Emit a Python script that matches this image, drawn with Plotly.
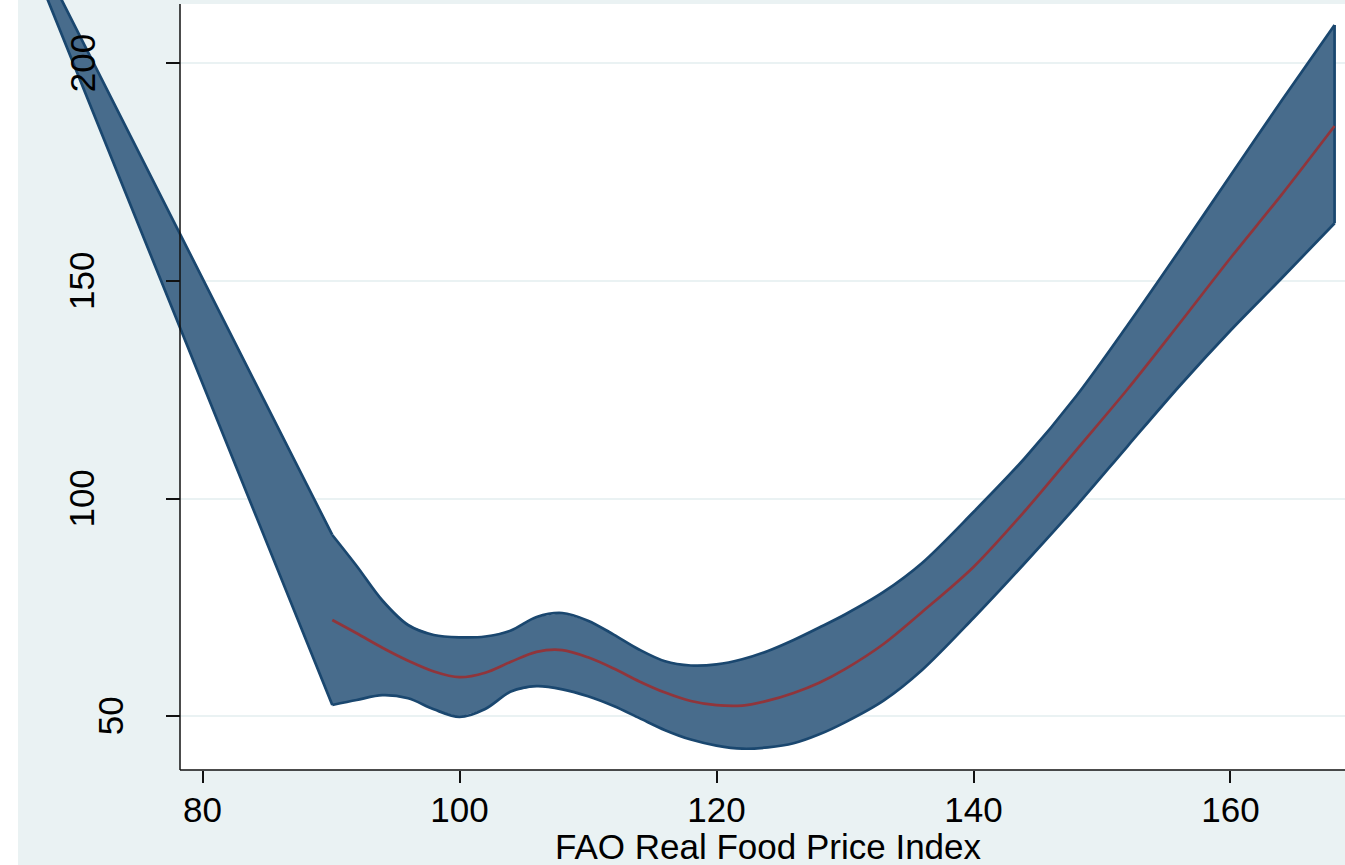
import plotly.graph_objects as go

# ---------------- data ----------------
x_grid = [90.1, 92, 94, 96, 98, 100, 102, 104, 106, 108, 110, 112, 114, 116, 118,
          120, 122, 124, 126, 128, 130, 133, 136, 140, 144, 148, 152, 156, 160, 164, 168.1]

ci_lower = [52.58, 53.73, 54.83, 54.12, 51.60, 49.83, 51.67, 55.66, 56.90, 56.19,
            54.60, 52.35, 49.57, 46.80, 44.64, 43.26, 42.55, 42.84, 43.79, 45.85,
            48.60, 53.59, 60.63, 72.57, 85.21, 98.30, 112.08, 125.75, 138.62, 150.68, 163.24]

ci_upper = [91.64, 84.52, 76.59, 70.96, 68.67, 68.14, 68.32, 69.70, 72.80, 73.72,
            71.95, 68.76, 65.29, 62.62, 61.66, 61.91, 63.08, 64.99, 67.52, 70.39,
            73.38, 78.55, 85.21, 96.92, 109.33, 123.57, 139.88, 156.90, 174.20, 191.50, 208.80]

fit = [72.11, 69.06, 65.72, 62.74, 60.28, 58.97, 60.00, 62.51, 64.80, 65.20,
       63.54, 60.97, 58.00, 55.43, 53.50, 52.54, 52.45, 53.59, 55.36, 57.71,
       60.83, 66.60, 73.95, 84.29, 97.15, 111.16, 125.18, 140.11, 155.27, 169.90, 185.60]

# left apex where the two straight CI edges meet (outside the plot region)
band_apex_x = 63.7
band_apex_y = 245.7

x_ticks = [80, 100, 120, 140, 160]
y_ticks = [50, 100, 150, 200]
x_title = "FAO Real Food Price Index"

# ---------------- style ----------------
W, H = 1345, 865
PLOT_BOTTOM = 770          # pixel row of the x axis
AXIS_LEFT = 180            # pixel column of the y axis
PLOT_TOP = 4
BG = "#EAF2F3"
FILL = "#486C8C"
EDGE = "#1A476F"
RED = "#90353B"
FONT = "Liberation Sans, Arial, sans-serif"
FS = 35

x_range = [64.241, 168.911]
y_range = [37.65, 214.54]

def px_x(p):
    return p / W

def px_y(p):
    return (PLOT_BOTTOM - p) / PLOT_BOTTOM

fig = go.Figure()

# filled band polygon (no outline)
poly_x = [band_apex_x] + x_grid + x_grid[::-1] + [band_apex_x]
poly_y = [band_apex_y] + ci_lower + ci_upper[::-1] + [band_apex_y]
fig.add_trace(go.Scatter(x=poly_x, y=poly_y, fill="toself", fillcolor=FILL,
                         mode="lines", line=dict(width=0), hoverinfo="skip",
                         showlegend=False))

# outline: straight edges
fig.add_trace(go.Scatter(
    x=[x_grid[0], band_apex_x, x_grid[0], None, x_grid[-1], x_grid[-1]],
    y=[ci_lower[0], band_apex_y, ci_upper[0], None, ci_lower[-1], ci_upper[-1]],
    mode="lines", line=dict(color=EDGE, width=2.7), showlegend=False, hoverinfo="skip"))
# outline: curved edges
for ys in (ci_lower, ci_upper):
    fig.add_trace(go.Scatter(x=x_grid, y=ys, mode="lines",
                             line=dict(color=EDGE, width=2.7, shape="spline", smoothing=0.9),
                             showlegend=False, hoverinfo="skip"))

# fitted line
fig.add_trace(go.Scatter(x=x_grid, y=fit, mode="lines",
                         line=dict(color=RED, width=2.7, shape="spline", smoothing=0.9),
                         showlegend=False))

shapes = [
    dict(type="rect", xref="paper", yref="paper", x0=px_x(AXIS_LEFT), x1=1,
         y0=0, y1=px_y(PLOT_TOP), fillcolor="white", line=dict(width=0), layer="below"),
    dict(type="rect", xref="paper", yref="paper", x0=0, x1=px_x(18),
         y0=px_y(H), y1=1, fillcolor="white", line=dict(width=0), layer="above"),
    dict(type="line", xref="paper", yref="paper", x0=px_x(AXIS_LEFT), x1=px_x(AXIS_LEFT),
         y0=0, y1=px_y(PLOT_TOP), line=dict(color="#111111", width=1.5), layer="above"),
    dict(type="line", xref="paper", yref="paper", x0=px_x(AXIS_LEFT), x1=1,
         y0=0, y1=0, line=dict(color="#111111", width=1.5), layer="above"),
]

annotations = []
for v in y_ticks:
    lab = str(v)
    cx = 82 + 28 * (3 - len(lab))
    annotations.append(dict(x=px_x(cx), xref="paper", y=v, yref="y", text=lab,
                            textangle=-90, showarrow=False, xanchor="center",
                            yanchor="middle", font=dict(family=FONT, size=FS, color="black")))
annotations.append(dict(x=px_x(768), xref="paper", y=px_y(846), yref="paper",
                        text=x_title, showarrow=False, xanchor="center", yanchor="middle",
                        font=dict(family=FONT, size=FS, color="black")))

fig.update_layout(
    width=W, height=H,
    margin=dict(l=0, r=0, t=0, b=H - PLOT_BOTTOM, pad=0),
    paper_bgcolor=BG, plot_bgcolor=BG,
    shapes=shapes, annotations=annotations,
    showlegend=False,
    xaxis=dict(range=x_range, tickvals=x_ticks, ticktext=[str(t) for t in x_ticks],
               ticks="outside", ticklen=12, tickwidth=1.5, tickcolor="#111111",
               ticklabelstandoff=-3,
               showgrid=False, zeroline=False, showline=False,
               tickfont=dict(family=FONT, size=FS, color="black")),
    yaxis=dict(range=y_range, tickvals=y_ticks, anchor="free", position=px_x(AXIS_LEFT),
               ticks="outside", ticklen=14, tickwidth=1.5, tickcolor="#111111",
               showticklabels=False, showgrid=True, gridcolor=BG, gridwidth=2,
               zeroline=False, showline=False),
)

fig.write_html("out.html", config={"displayModeBar": False},
               post_script="document.body.style.margin='0px';document.body.style.overflow='hidden';")
